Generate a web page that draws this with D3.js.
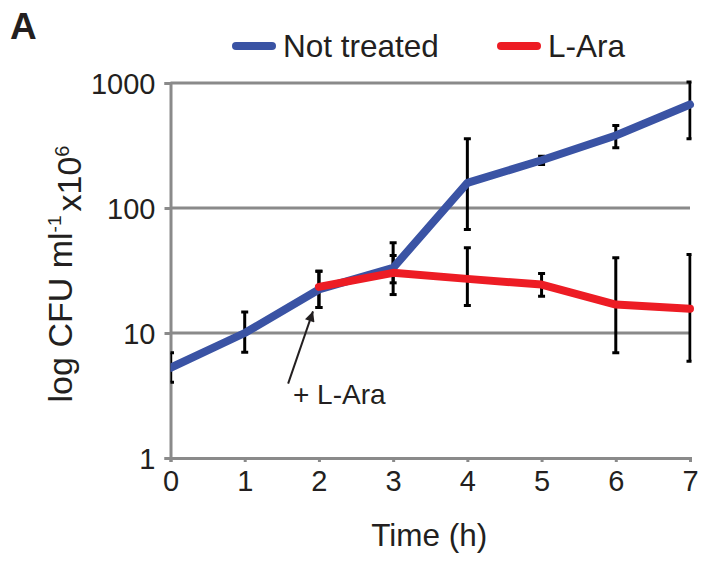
<!DOCTYPE html>
<html>
<head>
<meta charset="utf-8">
<script src="https://cdn.jsdelivr.net/npm/d3@7"></script>
<style>
  body { margin: 0; background: #fff; }
  text { font-family: "Liberation Sans", Arial, Helvetica, sans-serif; fill: #231f20; }
</style>
</head>
<body>
<div id="viz-container"></div>
<script>
// Chart data
const times = [0, 1, 2, 3, 4, 5, 6, 7];
const notTreated = [5.27, 10.0, 22.3, 33.2, 159, 241, 380, 673];
const notTreatedLow = [4.04, 7.02, 16.0, 25.2, 67.3, 223, 303, 358];
const notTreatedHigh = [6.94, 14.7, 31.2, 52.7, 358, 259, 457, 1020];

const araTimes = [2, 3, 4, 5, 6, 7];
const lAra = [23.4, 30.3, 27.1, 24.4, 16.9, 15.6];
const lAraLow = [16.0, 20.3, 16.6, 19.7, 6.94, 5.95];
const lAraHigh = [31.2, 41.7, 48.0, 29.9, 40.0, 42.5];

const xTicks = [0, 1, 2, 3, 4, 5, 6, 7];
const yTicks = [1, 10, 100, 1000];

const seriesNames = ['Not treated', 'L-Ara'];
const seriesColors = ['#3a53a4', '#ed1c24'];

// annotation: arrow tail / tip and label, in data units
const arrowFrom = [1.585, 3.94];
const arrowTo = [1.92, 14.9];
const arrowLabel = [1.65, 2.68];

const W = 702, H = 562;
const margin = {top: 83, right: 12, bottom: 104, left: 170.5};
const width = W - margin.left - margin.right;
const height = H - margin.top - margin.bottom;

const svg = d3.select('#viz-container').append('svg')
    .attr('width', W)
    .attr('height', H);

const g = svg.append('g')
    .attr('transform', 'translate(' + margin.left + ',' + margin.top + ')');

const x = d3.scaleLinear().domain([0, 7]).range([0, width]);
const y = d3.scaleLog().domain([1, 1000]).range([height, 0]);

const gray = '#8a8a8a';

// grid lines
g.selectAll('line.grid')
    .data(yTicks.slice(1))
    .enter()
    .append('line')
    .attr('class', 'grid')
    .attr('x1', 0).attr('x2', width)
    .attr('y1', d => y(d)).attr('y2', d => y(d))
    .attr('stroke', gray).attr('stroke-width', 3);

// axes
const yAxis = g.append('g')
    .call(d3.axisLeft(y).tickValues(yTicks).tickFormat(d3.format('d')).tickSize(6).tickPadding(9));
const xAxis = g.append('g')
    .attr('transform', 'translate(0,' + height + ')')
    .call(d3.axisBottom(x).tickValues(xTicks).tickFormat(d3.format('d')).tickSize(4).tickPadding(8));

[yAxis, xAxis].forEach(ax => {
    ax.select('.domain').attr('stroke', gray).attr('stroke-width', 3);
    ax.selectAll('.tick line').attr('stroke', gray).attr('stroke-width', 3);
    ax.selectAll('.tick text').style('font-size', '29px').attr('fill', '#231f20');
});
yAxis.selectAll('.tick text').attr('dy', '0.36em');

// clip for lines (they run slightly past the right edge)
svg.append('clipPath').attr('id', 'plot-clip')
    .append('rect')
    .attr('x', 0).attr('y', -20)
    .attr('width', width + 10).attr('height', height + 20);
// error bars are cut at the right edge
svg.append('clipPath').attr('id', 'bar-clip')
    .append('rect')
    .attr('x', 0).attr('y', -20)
    .attr('width', width + 1.5).attr('height', height + 20);

const barLayer = g.append('g').attr('clip-path', 'url(#bar-clip)');
const marks = g.append('g').attr('clip-path', 'url(#plot-clip)');

function drawErrorBars(xs, lows, highs) {
    const bars = barLayer.append('g');
    xs.forEach((t, i) => {
        bars.append('line')
            .attr('x1', x(t)).attr('x2', x(t))
            .attr('y1', y(lows[i])).attr('y2', y(highs[i]))
            .attr('stroke', '#000').attr('stroke-width', 3);
        [lows[i], highs[i]].forEach(v => {
            bars.append('line')
                .attr('x1', x(t) - 3.5).attr('x2', x(t) + 3.5)
                .attr('y1', y(v)).attr('y2', y(v))
                .attr('stroke', '#000').attr('stroke-width', 3);
        });
    });
}

drawErrorBars(times, notTreatedLow, notTreatedHigh);
drawErrorBars(araTimes, lAraLow, lAraHigh);

const line = d3.line()
    .x(d => x(d[0]))
    .y(d => y(d[1]));

marks.append('path')
    .datum(times.map((t, i) => [t, notTreated[i]]))
    .attr('d', line)
    .attr('fill', 'none')
    .attr('stroke', seriesColors[0])
    .attr('stroke-width', 8)
    .attr('stroke-linecap', 'round')
    .attr('stroke-linejoin', 'round');

marks.append('path')
    .datum(araTimes.map((t, i) => [t, lAra[i]]))
    .attr('d', line)
    .attr('fill', 'none')
    .attr('stroke', seriesColors[1])
    .attr('stroke-width', 8)
    .attr('stroke-linecap', 'round')
    .attr('stroke-linejoin', 'round');

// arrow annotation
svg.append('defs').append('marker')
    .attr('id', 'arrowhead')
    .attr('viewBox', '0 0 10 10')
    .attr('refX', 10).attr('refY', 5)
    .attr('markerWidth', 7).attr('markerHeight', 5)
    .attr('markerUnits', 'strokeWidth')
    .attr('orient', 'auto')
    .append('path')
    .attr('d', 'M0,0 L10,5 L0,10 z')
    .attr('fill', '#231f20');

g.append('line')
    .attr('x1', x(arrowFrom[0])).attr('y1', y(arrowFrom[1]))
    .attr('x2', x(arrowTo[0])).attr('y2', y(arrowTo[1]))
    .attr('stroke', '#231f20').attr('stroke-width', 2)
    .attr('marker-end', 'url(#arrowhead)');

g.append('text')
    .attr('x', x(arrowLabel[0])).attr('y', y(arrowLabel[1]))
    .style('font-size', '28px')
    .text('+ L-Ara');

// axis titles
svg.append('text')
    .attr('x', margin.left + width / 2 - 1)
    .attr('y', 546)
    .attr('text-anchor', 'middle')
    .style('font-size', '31.5px')
    .text('Time (h)');

const yTitle = svg.append('text')
    .attr('transform', 'translate(72,274) rotate(-90)')
    .attr('text-anchor', 'middle')
    .style('font-size', '34px');
yTitle.append('tspan').text('log CFU ml');
yTitle.append('tspan').attr('dy', '-0.6em').style('font-size', '19px').text('-1');
yTitle.append('tspan').attr('dy', '0.6em').attr('dx', '4').text('x10');
yTitle.append('tspan').attr('dy', '-0.6em').style('font-size', '20px').text('6');

// legend
const legend = svg.append('g').attr('transform', 'translate(236,46)');
const legendX = [0, 265];
seriesNames.forEach((name, i) => {
    const item = legend.append('g').attr('transform', 'translate(' + legendX[i] + ',0)');
    item.append('line')
        .attr('x1', 0).attr('x2', 36)
        .attr('y1', 0).attr('y2', 0)
        .attr('stroke', seriesColors[i])
        .attr('stroke-width', 8)
        .attr('stroke-linecap', 'round');
    item.append('text')
        .attr('x', 47).attr('y', 11)
        .style('font-size', '31.5px')
        .text(name);
});

// panel letter
svg.append('text')
    .attr('x', 10).attr('y', 39)
    .style('font-size', '37px')
    .style('font-weight', 'bold')
    .attr('fill', '#000')
    .text('A');
</script>
</body>
</html>
